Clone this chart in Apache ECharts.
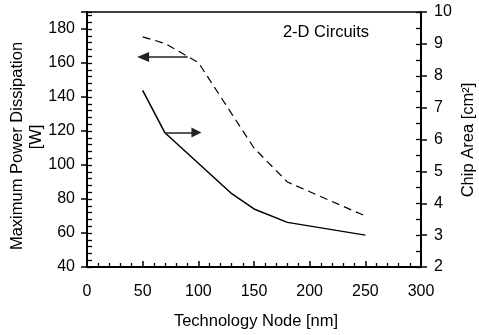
<!DOCTYPE html>
<html>
<head>
<meta charset="utf-8">
<script src="https://cdn.jsdelivr.net/npm/echarts@6/dist/echarts.min.js"></script>
<style>
html,body{margin:0;padding:0;background:#fff;}
#c{width:479px;height:335px;}
</style>
</head>
<body>
<div id="c"></div>
<script>
// Data
var nodesPower = [50, 70, 100, 150, 180, 250];
var powerW = [175.4, 171.5, 160.3, 110, 90, 70];
var nodesArea = [50, 70, 130, 150, 180, 250];
var areaCm2 = [7.54, 6.21, 4.30, 3.82, 3.40, 3.0];
var xTicks = [0, 50, 100, 150, 200, 250, 300];
var leftTicks = [40, 60, 80, 100, 120, 140, 160, 180];
var rightTicks = [2, 3, 4, 5, 6, 7, 8, 9, 10];
// annotation arrows: [x start, x end, y]
var arrowPower = [90.5, 50.4, 163.6];
var arrowArea = [70, 98.3, 6.22];

var FONT = "'Liberation Sans', Arial, sans-serif";

function pairs(xs, ys){ return xs.map(function(x,i){ return [x, ys[i]]; }); }

var chart = echarts.init(document.getElementById('c'), null, {renderer:'canvas'});
chart.setOption({
  animation:false,
  backgroundColor:'#fff',
  textStyle:{fontFamily:FONT},
  grid:{left:87, right:58, top:12, bottom:68, show:true, borderColor:'#000', borderWidth:1.5, backgroundColor:'transparent'},
  xAxis:{
    type:'value', min:xTicks[0], max:xTicks[xTicks.length-1], interval:50,
    axisLine:{lineStyle:{color:'#000', width:2}},
    axisTick:{inside:true, length:6, lineStyle:{color:'#000', width:1.5}},
    minorTick:{show:true, splitNumber:5, length:4, lineStyle:{color:'#000', width:1.3}},
    splitLine:{show:false},
    axisLabel:{margin:17, fontSize:16, color:'#000', fontFamily:FONT}
  },
  yAxis:[
    {
      type:'value', position:'left', min:40, max:190, interval:20,
      axisLine:{show:true, lineStyle:{color:'#000', width:2}},
      axisTick:{show:true, inside:false, length:6, lineStyle:{color:'#000', width:1.5}},
      splitLine:{show:false},
      axisLabel:{margin:12, fontSize:16, color:'#000', fontFamily:FONT,
        formatter:function(v){ return leftTicks.indexOf(v) >= 0 ? String(v) : ''; }}
    },
    {
      type:'value', position:'right', min:2, max:10, interval:1,
      axisLine:{show:true, lineStyle:{color:'#000', width:2}},
      axisTick:{show:true, inside:false, length:6, lineStyle:{color:'#000', width:1.5}},
      splitLine:{show:false},
      axisLabel:{margin:13, fontSize:16, color:'#000', fontFamily:FONT,
        formatter:function(v){ return rightTicks.indexOf(v) >= 0 ? String(v) : ''; }}
    },
    {
      type:'value', position:'left', min:40, max:190, interval:4,
      axisLine:{show:true, lineStyle:{color:'#000', width:2}}, axisLabel:{show:false}, splitLine:{show:false},
      axisTick:{show:true, inside:true, length:5, lineStyle:{color:'#000', width:1.3}}
    },
    {
      type:'value', position:'right', min:2, max:10, interval:0.5,
      axisLine:{show:true, lineStyle:{color:'#000', width:2}}, axisLabel:{show:false}, splitLine:{show:false},
      axisTick:{show:true, inside:true, length:5, lineStyle:{color:'#000', width:1.3}}
    }
  ],
  series:[
    {
      type:'line', yAxisIndex:0, data:pairs(nodesPower, powerW),
      symbol:'none', lineStyle:{color:'#000', width:1.2, type:[8,5]},
      markLine:{
        silent:true, symbol:['none','triangle'], symbolSize:[10,12],
        label:{show:false},
        lineStyle:{type:'solid', color:'#222', width:1.5},
        data:[[{coord:[arrowPower[0], arrowPower[2]]},{coord:[arrowPower[1], arrowPower[2]]}]]
      }
    },
    {
      type:'line', yAxisIndex:1, data:pairs(nodesArea, areaCm2),
      symbol:'none', lineStyle:{color:'#000', width:1.5},
      markLine:{
        silent:true, symbol:['none','triangle'], symbolSize:[10,10],
        label:{show:false},
        lineStyle:{type:'solid', color:'#222', width:1.5},
        data:[[{coord:[arrowArea[0], arrowArea[2]]},{coord:[arrowArea[1], arrowArea[2]]}]]
      }
    }
  ],
  graphic:[
    {type:'text', x:256, y:321, style:{text:'Technology Node [nm]', fontSize:16.5, fontFamily:FONT, fill:'#000', align:'center', verticalAlign:'middle'}},
    {type:'text', x:17, y:146, rotation:Math.PI/2, style:{text:'Maximum Power Dissipation', fontSize:16.5, fontFamily:FONT, fill:'#000', align:'center', verticalAlign:'middle'}},
    {type:'text', x:36, y:137, rotation:Math.PI/2, style:{text:'[W]', fontSize:16.5, fontFamily:FONT, fill:'#000', align:'center', verticalAlign:'middle'}},
    {type:'text', x:468, y:140, rotation:Math.PI/2, style:{text:'Chip Area [cm²]', fontSize:16.5, fontFamily:FONT, fill:'#000', align:'center', verticalAlign:'middle'}},
    {type:'text', x:326, y:32, style:{text:'2-D Circuits', fontSize:16.5, fontFamily:FONT, fill:'#000', align:'center', verticalAlign:'middle'}}
  ]
});
</script>
</body>
</html>
